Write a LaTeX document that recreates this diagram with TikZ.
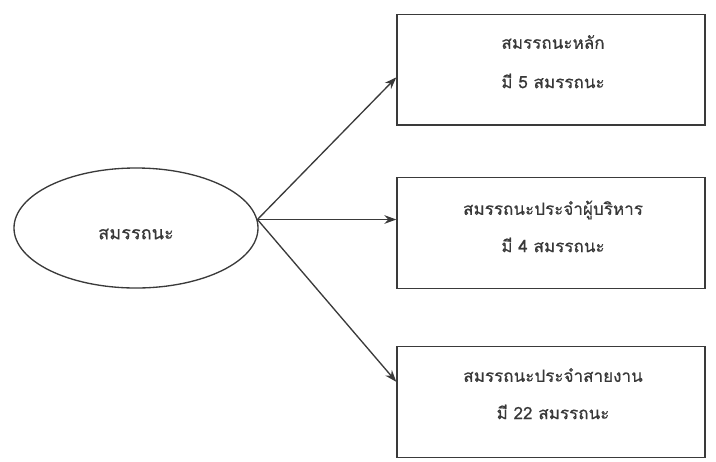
\documentclass[tikz,border=0pt]{standalone}
\usepackage{fontspec}
\newfontfamily\thaifont[Script=Thai,FakeBold=0.45]{Loma}
\usetikzlibrary{shapes.geometric,arrows.meta,calc}
\definecolor{inkline}{HTML}{3A3A3A}
\definecolor{inktext}{HTML}{383838}
\tikzset{
  every node/.style={font=\thaifont\fontsize{12.8}{15}\selectfont, text=inktext},
  topic/.style={ellipse, draw=inkline, line width=1pt, minimum width=183pt, minimum height=90pt, inner sep=0pt},
  groupbox/.style={rectangle, draw=inkline, line width=1pt, minimum width=231pt, minimum height=83pt, inner sep=0pt},
  caption/.style={align=center, inner sep=0pt},
  bigcaption/.style={caption, font=\thaifont\fontsize{13.6}{16}\selectfont},
  link/.style={draw=inkline, line width=1pt, -{Stealth[length=9pt,width=6.5pt]}}
}
\begin{document}
\begin{tikzpicture}[x=0.75pt, y=-0.75pt]
  \useasboundingbox (0,0) rectangle (716,461);

  % central ellipse
  \node[topic] (core) at (136,228) {};
  \node[bigcaption] (coretext) at (136,234) {สมรรถนะ};

  % three groups on the right
  \node[groupbox] (b1) at (551,69.5) {};
  \node[groupbox] (b2) at (551,233) {};
  \node[groupbox] (b3) at (551,402) {};

  \node[caption] (t1a) at (553,42) {สมรรถนะหลัก};
  \node[caption] (t1b) at (553,81) {มี 5 สมรรถนะ};
  \node[caption] (t2a) at (553,210) {สมรรถนะประจำผู้บริหาร};
  \node[caption] (t2b) at (553,245) {มี 4 สมรรถนะ};
  \node[caption] (t3a) at (553,375) {สมรรถนะประจำสายงาน};
  \node[caption] (t3b) at (553,412) {มี 22 สมรรถนะ};

  % connectors from the ellipse
  \coordinate (src) at (core.4);
  \draw[link] (src) -- ($(b1.north west)!0.57!(b1.south west)$);
  \draw[link] (src) -- (src -| b2.west);
  \draw[link] (src) -- ($(b3.north west)!0.32!(b3.south west)$);
\end{tikzpicture}
\end{document}
